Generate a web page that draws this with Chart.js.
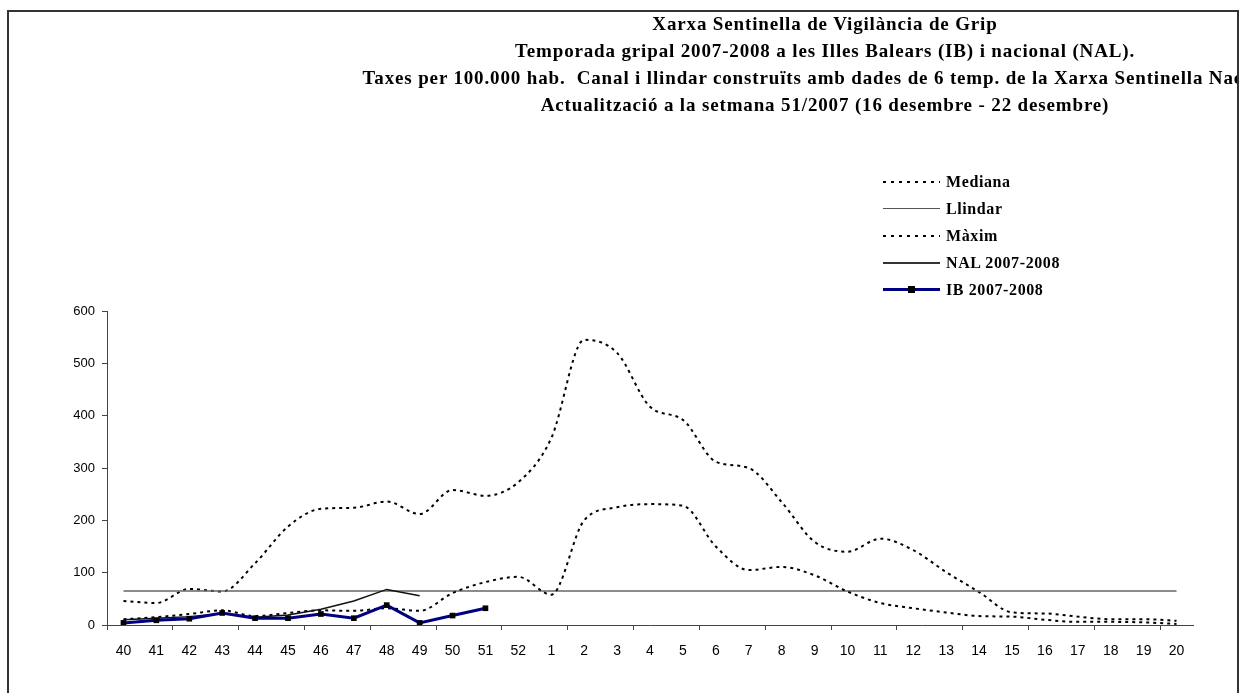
<!doctype html>
<html>
<head>
<meta charset="utf-8">
<title>Xarxa Sentinella de Vigilància de Grip</title>
<script src="https://cdn.jsdelivr.net/npm/chart.js@4.4.1/dist/chart.umd.min.js"></script>
<style>
	body { margin:0; background:#fff; width:1247px; height:693px; overflow:hidden; position:relative; }
	#chart { position:absolute; left:0; top:0; }
	#frame { position:absolute; left:7px; top:10px; width:1232px; height:740px; box-sizing:border-box; border:2px solid #333; }
	#titles { position:absolute; left:0; top:0; width:1237px; height:140px; overflow:hidden; }
	#titles div {
		position:absolute; left:825px; transform:translateX(-50%); white-space:nowrap;
		font-family:"Liberation Serif", "Times New Roman", serif; font-weight:bold;
		font-size:19px; letter-spacing:0.85px; line-height:27px; color:#000;
	}
	#legend { position:absolute; left:883px; top:168px; }
	.row { display:flex; align-items:center; height:27px; }
	.sample { width:57px; margin-right:6px; position:relative; }
	.row span {
		font-family:"Liberation Serif", "Times New Roman", serif; font-weight:bold;
		font-size:16px; letter-spacing:0.6px; line-height:27px; color:#000;
	}
	.dots { height:2px; background:repeating-linear-gradient(to right, #000 0 3px, transparent 3px 8px); }
	.thin { height:1px; background:#555; }
	.nal { height:2px; background:#333; }
	.ib { height:3px; background:#000080; }
	.ib:after { content:""; position:absolute; left:25px; top:-2px; width:7px; height:7px; background:#000; }
</style>
</head>
<body>
	<canvas id="chart" width="1247" height="693"></canvas>
	<div id="frame"></div>
	<div id="titles">
		<div style="top:10px">Xarxa Sentinella de Vigilància de Grip</div>
		<div style="top:37px">Temporada gripal 2007-2008 a les Illes Balears (IB) i nacional (NAL).</div>
		<div style="top:64px">Taxes per 100.000 hab.&nbsp; Canal i llindar construïts amb dades de 6 temp. de la Xarxa Sentinella Nacional</div>
		<div style="top:91px">Actualització a la setmana 51/2007 (16 desembre - 22 desembre)</div>
	</div>
	<div id="legend">
		<div class="row"><div class="sample dots"></div><span>Mediana</span></div>
		<div class="row"><div class="sample thin"></div><span>Llindar</span></div>
		<div class="row"><div class="sample dots"></div><span>Màxim</span></div>
		<div class="row"><div class="sample nal"></div><span>NAL 2007-2008</span></div>
		<div class="row"><div class="sample ib"></div><span>IB 2007-2008</span></div>
	</div>
	<script>
		// setmanes de la temporada
		var weeks = ['40','41','42','43','44','45','46','47','48','49','50','51','52',
			'1','2','3','4','5','6','7','8','9','10','11','12','13','14','15','16','17','18','19','20'];

		var mediana = [11,15,21,28,17,23,28,27,32,27,61,82,92,
			58,200,225,231,228,150,105,111,95,64,42,32,24,17,16,10,6,6,5,2];
		var llindar = [65,65,65,65,65,65,65,65,65,65,65,65,65,
			65,65,65,65,65,65,65,65,65,65,65,65,65,65,65,65,65,65,65,65];
		var maxim = [46,42,69,64,118,188,222,224,236,212,258,247,273,
			357,545,520,417,392,312,300,235,159,140,165,143,101,63,24,22,16,11,11,8];
		var nal = [10,13,16,22,15,19,30,46,68,56];
		var ib = [4,9,12,23,13,13,21,13,38,4,18,32];

		var yMin = 0, yMax = 600, yStep = 100;

		Chart.defaults.color = '#000';
		Chart.defaults.font.family = '"Liberation Sans", Arial, sans-serif';

		var config = {
			type: 'line',
			data: {
				labels: weeks,
				datasets: [
					{ label: 'IB 2007-2008', data: ib, borderColor: '#000080', borderWidth: 3, tension: 0,
						pointStyle: 'rect', pointRadius: 4, pointBackgroundColor: '#000', pointBorderColor: '#000', pointBorderWidth: 0, order: 0 },
					{ label: 'NAL 2007-2008', data: nal, borderColor: '#111', borderWidth: 1.5, tension: 0, pointRadius: 0, order: 1 },
					{ label: 'Mediana', data: mediana, borderColor: '#000', borderWidth: 2, borderDash: [3, 4], cubicInterpolationMode: 'monotone', pointRadius: 0, order: 2 },
					{ label: 'Llindar', data: llindar, borderColor: '#666', borderWidth: 1.5, tension: 0, pointRadius: 0, order: 3 },
					{ label: 'Màxim', data: maxim, borderColor: '#000', borderWidth: 2, borderDash: [3, 4], cubicInterpolationMode: 'monotone', pointRadius: 0, order: 4 }
				]
			},
			options: {
				responsive: false,
				animation: false,
				devicePixelRatio: 1,
				layout: { padding: { left: 0, top: 311, right: 54, bottom: 38 } },
				plugins: { legend: { display: false }, title: { display: false }, tooltip: { enabled: false } },
				scales: {
					x: {
						offset: true,
						afterFit: function (s) { s.height = 30; },
						border: { display: true, color: '#444', width: 1 },
						grid: {
							offset: true, drawOnChartArea: false, tickLength: 5,
							color: function (ctx) { return ctx.index % 2 === 0 ? '#444' : 'rgba(0,0,0,0)'; }
						},
						ticks: { autoSkip: false, maxRotation: 0, padding: 13, font: { size: 14 } }
					},
					y: {
						min: yMin, max: yMax,
						afterFit: function (s) { s.width = 107; },
						border: { display: true, color: '#444', width: 1 },
						grid: { drawOnChartArea: false, tickLength: 5, color: '#444' },
						ticks: { stepSize: yStep, padding: 7, font: { size: 13 } }
					}
				}
			}
		};

		window.onload = function () {
			var ctx = document.getElementById('chart').getContext('2d');
			window.myLine = new Chart(ctx, config);
		};
	</script>
</body>
</html>
